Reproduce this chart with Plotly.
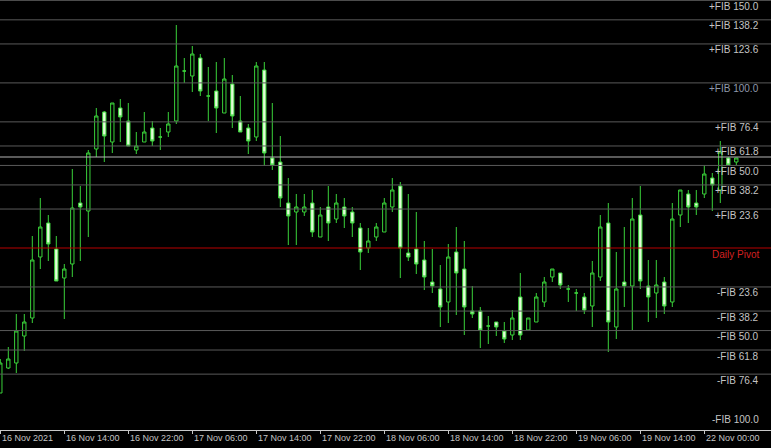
import plotly.graph_objects as go

# ---- data (values in points relative to the daily pivot) ----
TIME_LABELS = ["16 Nov 2021", "16 Nov 14:00", "16 Nov 22:00", "17 Nov 06:00",
               "17 Nov 14:00", "17 Nov 22:00", "18 Nov 06:00", "18 Nov 14:00",
               "18 Nov 22:00", "19 Nov 06:00", "19 Nov 14:00", "22 Nov 00:00"]
TIME_LABEL_BARS = [0, 8, 16, 24, 32, 40, 48, 56, 64, 72, 80, 88]

OPEN = [-145, -120, -115, -88, -70, -9, 25, -1, -30, -16,
        45, 37, 99, 136, 106, 140, 127, 98, 106, 120,
        111, 116, 127, 177, 172, 190, 152, 157, 135, 164,
        127, 120, 111, 178, 90, 86, 45, 36, 36, 45,
        11, 41, 29, 41, 36, 20, 0, 11, 16, 41,
        62, -5, -1, -12, -34, -41, -54, -4, -21, -63,
        -63, -78, -74, -83, -87, -49, -82, -74, -54, -29,
        -25, -41, -45, -49, -58, -29, 25, -79, -34, -38,
        33, -38, -45, -34, -54, 33, 54, 45, 54, 70,
        58, 90, 86]
HIGH = [-111, -99, -66, -66, 12, 50, 33, 12, -16, 79,
        62, 98, 140, 137, 145, 149, 145, 116, 136, 127,
        120, 136, 223, 190, 202, 194, 181, 186, 190, 173,
        152, 124, 186, 186, 145, 112, 70, 54, 54, 58,
        41, 62, 54, 50, 41, 25, 20, 25, 50, 70,
        66, 54, 36, 7, -1, -17, 4, 21, 7, -38,
        -59, -68, -74, -74, -62, -25, -70, -45, -29, -21,
        -25, -37, -41, -45, -13, 33, 45, -4, 21, 50,
        62, -12, -12, -29, 45, 58, 58, 58, 83, 75,
        107, 91, 90]
LOW = [-145, -121, -125, -103, -75, -21, -13, -33, -71, -29,
       -13, 11, 91, 86, 95, 106, 102, 94, 106, 102,
       98, 111, 124, 165, 156, 152, 127, 115, 135, 120,
       116, 94, 107, 82, 78, 41, 3, 3, 32, 11,
       11, 7, 25, 20, 11, -22, -5, 7, 16, 36,
       -30, -13, -26, -42, -45, -79, -75, -67, -87, -70,
       -100, -96, -88, -95, -92, -92, -82, -74, -59, -34,
       -41, -54, -63, -66, -79, -33, -104, -91, -59, -82,
       -41, -74, -70, -66, -59, 21, 25, 33, 50, 37,
       45, 83, 83]
CLOSE = [-115, -111, -83, -74, -12, 21, 4, -33, -21, 40,
         41, 95, 132, 112, 145, 131, 102, 102, 116, 107,
         111, 124, 182, 177, 194, 157, 152, 140, 169, 132,
         116, 107, 182, 95, 83, 50, 32, 41, 41, 16,
         33, 25, 45, 32, 25, -4, 7, 21, 45, 58,
         0, -9, -16, -29, -38, -59, -9, -25, -59, -66,
         -82, -78, -79, -91, -70, -87, -70, -49, -34, -21,
         -37, -41, -45, -62, -25, 21, -74, -41, -38, 29,
         -33, -49, -37, -58, 29, 58, 41, 41, 74, 63,
         96, 83, 90]

PIVOT = 0.0
FIB_RANGE = 165.1
FIB_UP = [150.0, 138.2, 123.6, 100.0, 76.4, 61.8, 50.0, 38.2, 23.6]
FIB_DOWN = [23.6, 38.2, 50.0, 61.8, 76.4]
FIB_DOWN_LABEL_ONLY = [100.0]

BARS = list(range(len(OPEN)))

GREEN = "#3ad23a"
BEAR_FILL = "#e2fcd8"
LEVEL_COLOR = "#5a5a5a"
TEXT_COLOR = "#c4c4c4"
FONT = "Liberation Sans, Arial"

fig = go.Figure()
fig.add_trace(go.Candlestick(
    x=BARS, open=OPEN, high=HIGH, low=LOW, close=CLOSE,
    increasing=dict(line=dict(color=GREEN, width=1), fillcolor="#000000"),
    decreasing=dict(line=dict(color=GREEN, width=1), fillcolor=BEAR_FILL),
    whiskerwidth=0, hoverinfo="skip", showlegend=False,
))

shapes = []
annotations = []


def add_level(value, text, line_color, text_color, draw_line=True):
    if draw_line:
        shapes.append(dict(type="line", xref="paper", x0=0, x1=1, yref="y",
                           y0=value, y1=value, layer="above",
                           line=dict(color=line_color, width=1)))
    annotations.append(dict(x=761 / 771, xref="paper", y=value, yref="y",
                            xanchor="right", yanchor="middle", yshift=-6,
                            text=text, showarrow=False,
                            font=dict(family=FONT, size=10, color=text_color)))


for p in FIB_UP:
    col = "#8f99ab" if p == 100.0 else TEXT_COLOR
    add_level(PIVOT + p / 100 * FIB_RANGE, f"+FIB {p:.1f}", LEVEL_COLOR, col)
add_level(PIVOT, "Daily Pivot", "#b80000", "#d42020")
for p in FIB_DOWN:
    add_level(PIVOT - p / 100 * FIB_RANGE, f"-FIB {p:.1f}", LEVEL_COLOR, TEXT_COLOR)
for p in FIB_DOWN_LABEL_ONLY:
    add_level(PIVOT - p / 100 * FIB_RANGE, f"-FIB {p:.1f}", LEVEL_COLOR, TEXT_COLOR,
              draw_line=False)

# current price line
shapes.append(dict(type="line", xref="paper", x0=0, x1=1, yref="y",
                   y0=CLOSE[-1] + 1, y1=CLOSE[-1] + 1, layer="above",
                   line=dict(color="#b4b4b4", width=1)))

for b, t in zip(TIME_LABEL_BARS, TIME_LABELS):
    annotations.append(dict(x=b, xref="x", y=0, yref="paper", xanchor="left",
                            yanchor="top", yshift=-1, xshift=0, text=t,
                            showarrow=False,
                            font=dict(family=FONT, size=9, color=TEXT_COLOR)))

fig.update_layout(
    width=771, height=448,
    margin=dict(l=0, r=0, t=0, b=18),
    paper_bgcolor="#000000", plot_bgcolor="#000000",
    boxgap=0.4,
    shapes=shapes, annotations=annotations,
    xaxis=dict(range=[-0.0375, 96.3375], showgrid=False, zeroline=False,
               showline=True, linecolor="#c8c8c8", linewidth=1,
               tickvals=TIME_LABEL_BARS, showticklabels=False,
               ticks="outside", ticklen=3, tickcolor="#c8c8c8",
               rangeslider=dict(visible=False), fixedrange=True),
    yaxis=dict(range=[-182, 248], visible=False, fixedrange=True),
    showlegend=False,
)

fig.write_html(
    "out.html",
    config={"displayModeBar": False, "staticPlot": True},
    post_script="document.body.style.margin='0';document.body.style.background='#000';",
)
